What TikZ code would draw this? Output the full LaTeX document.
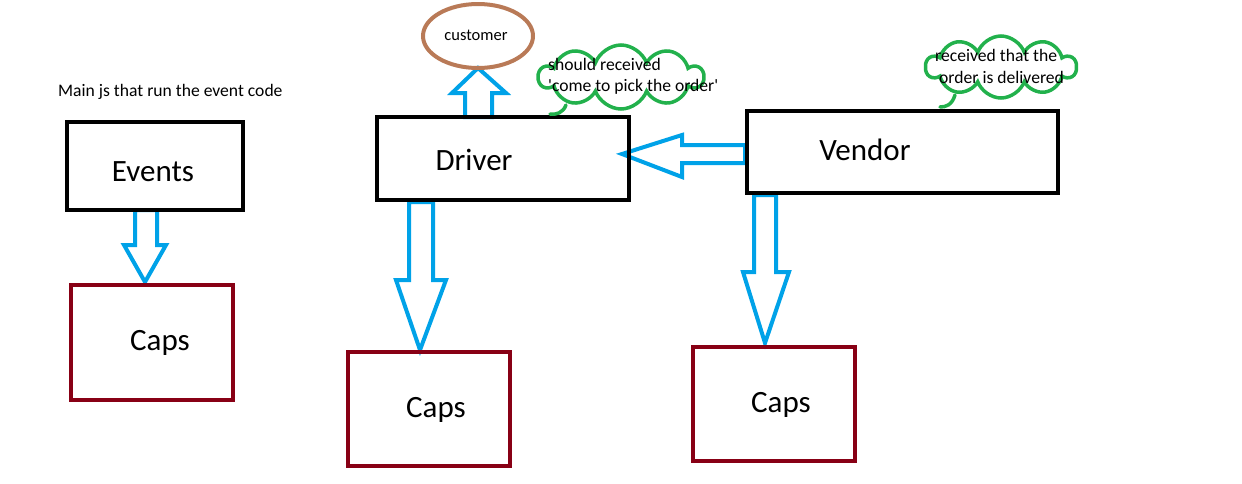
\documentclass[tikz,border=0pt]{standalone}
\usepackage{fontspec}
\setmainfont{Carlito}
\usetikzlibrary{shapes.symbols,shapes.geometric}
\definecolor{pblue}{HTML}{00A2E8}
\definecolor{pred}{HTML}{880015}
\definecolor{pgreen}{HTML}{22B14C}
\definecolor{pbrown}{HTML}{B97A57}
\begin{document}
\begin{tikzpicture}[x=1pt,y=-1pt,
  blackbox/.style={draw=black,line width=4pt,minimum width=#1,rectangle,inner sep=0pt},
  redbox/.style={draw=pred,line width=4pt,rectangle,inner sep=0pt},
  big/.style={font=\fontsize{31}{34}\selectfont,inner sep=0pt},
  small/.style={font=\fontsize{17.6}{22}\selectfont,inner sep=0pt,align=left},
  blockarrow/.style={draw=pblue,line width=4pt,fill=white,line join=miter},
  cloudy/.style={cloud,cloud puffs=10,cloud puff arc=140,draw=pgreen,line width=3.5pt,inner sep=0pt},
  tail/.style={draw=pgreen,line width=3.5pt,line cap=round}
]
\useasboundingbox (0,0) rectangle (1242,483);
% block arrows
\draw[blockarrow] (135,210) -- (135,245) -- (124,245) -- (145,282) -- (166,245) -- (157,245) -- (157,210) -- cycle;
\draw[blockarrow] (409,202) -- (409,280) -- (396,280) -- (420,350) -- (446,280) -- (433,280) -- (433,202) -- cycle;
\draw[blockarrow] (754,195) -- (754,272) -- (743,272) -- (765,343) -- (789,272) -- (776,272) -- (776,195) -- cycle;
\draw[blockarrow] (745,145) -- (682,145) -- (682,135) -- (622,154) -- (682,177) -- (682,163) -- (745,163) -- cycle;
\draw[blockarrow] (465,117) -- (465,93) -- (452,93) -- (478,68) -- (506,93) -- (492,93) -- (492,117) -- cycle;
% boxes
\node[blackbox=176pt,minimum height=88pt] (events) at (155,166) {};
\node[blackbox=252pt,minimum height=83pt] (driver) at (503,158.5) {};
\node[blackbox=311pt,minimum height=82pt] (vendor) at (902.5,152) {};
\node[redbox,minimum width=162pt,minimum height=115pt] (caps1) at (152,342.5) {};
\node[redbox,minimum width=162pt,minimum height=114pt] (caps2) at (429,409) {};
\node[redbox,minimum width=162pt,minimum height=114pt] (caps3) at (774,404) {};
% texts
\node[big] (tevents) at (153,172) {Events};
\node[big] (tdriver) at (474,160) {Driver};
\node[big] (tvendor) at (865,150) {Vendor};
\node[big] (tcaps1) at (160,343) {Caps};
\node[big] (tcaps2) at (436,410) {Caps};
\node[big] (tcaps3) at (781,405) {Caps};
\node[small,anchor=west] (main) at (58,92) {Main js that run the event code};
% customer
\node[ellipse,draw=pbrown,line width=4pt,minimum width=110pt,minimum height=64pt,inner sep=0pt] (cust) at (478,36) {};
\node[small,font=\fontsize{16.5}{20}\selectfont] (tcust) at (476,35) {customer};
% clouds
\node[cloudy,minimum width=164pt,minimum height=64pt] (cloud1) at (621,77) {};
\draw[tail] (566,105) .. controls (563,113) and (556,115) .. (550,114);
\node[cloudy,minimum width=150pt,minimum height=62pt] (cloud2) at (1001,67) {};
\draw[tail] (955,95) .. controls (952,105) and (946,107) .. (940,107);
\node[small,anchor=west] (c1a) at (548,64) {should received};
\node[small,anchor=west] (c1b) at (548,87) {\textquotesingle come to pick the order\textquotesingle};
\node[small,anchor=west] (c2a) at (935,55) {received that the};
\node[small,anchor=west] (c2b) at (939,77) {order is delivered};
\end{tikzpicture}
\end{document}
